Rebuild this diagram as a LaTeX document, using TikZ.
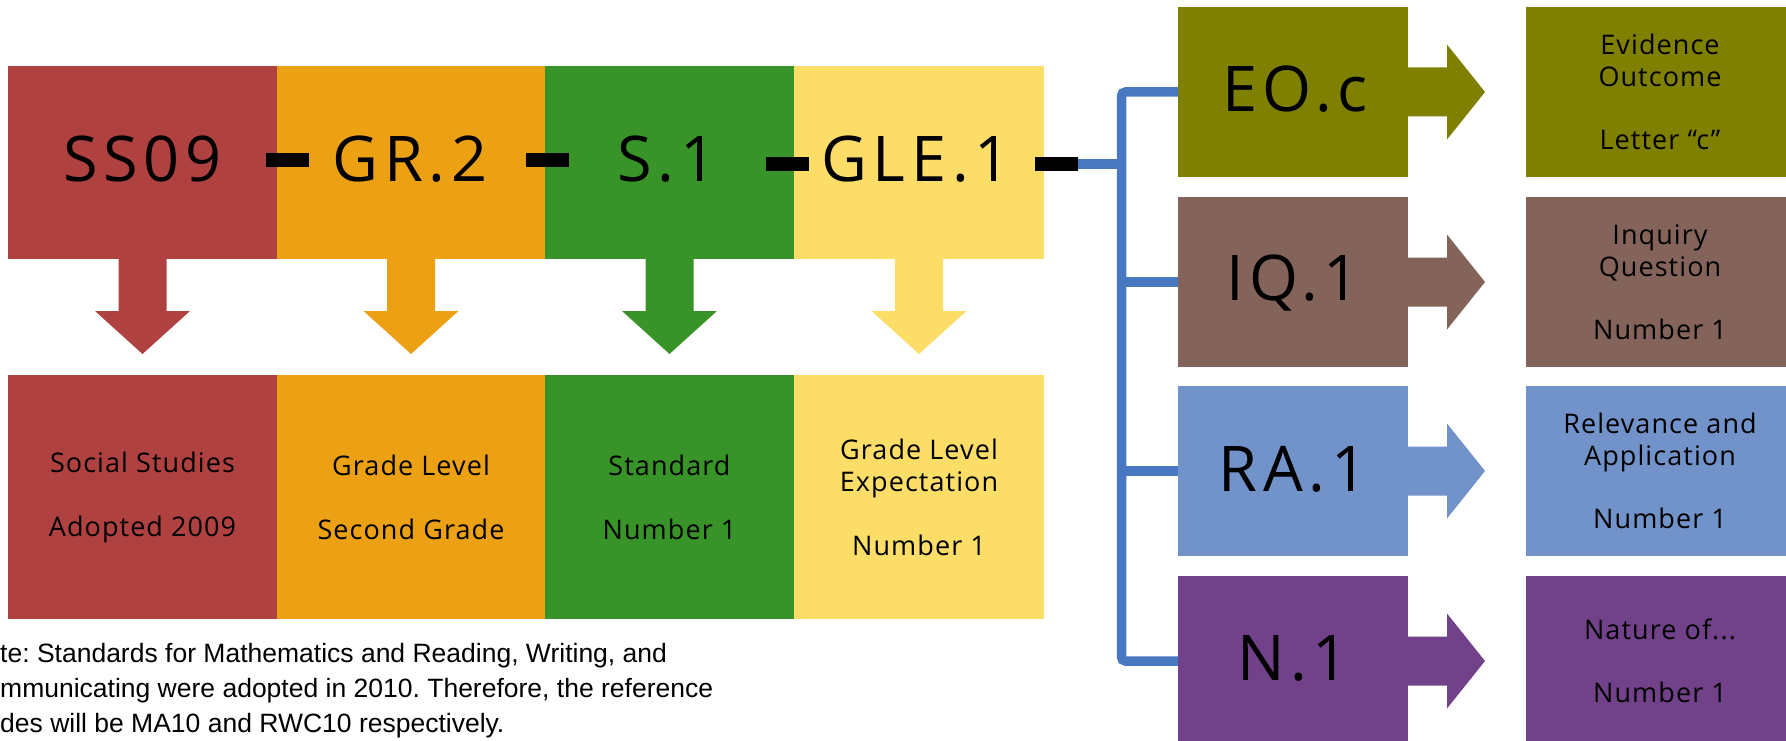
\documentclass[tikz,border=0pt]{standalone}
\usepackage{fontspec}
\setmainfont{Open Sans}
\newfontfamily\notefont{Liberation Sans}
\newfontfamily\bigfont[LetterSpace=9]{Open Sans}
\newfontfamily\smallfont[LetterSpace=4]{Open Sans}
\frenchspacing
\definecolor{cRed}{RGB}{176,65,65}
\definecolor{cOrange}{RGB}{236,161,21}
\definecolor{cGreen}{RGB}{56,148,40}
\definecolor{cYellow}{RGB}{251,221,104}
\definecolor{cOlive}{RGB}{128,128,0}
\definecolor{cBrown}{RGB}{132,100,90}
\definecolor{cLBlue}{RGB}{114,146,202}
\definecolor{cPurple}{RGB}{113,65,137}
\definecolor{cBus}{RGB}{72,120,192}
\newcommand\DownArr[2]{\fill[#2] (#1.south) ++(-24,-1) -- ++(0,53) -- ++(-23.5,0) -- ++(47.5,43) -- ++(47.5,-43) -- ++(-23.5,0) -- ++(0,-53) -- cycle;}
\newcommand\RightArr[2]{\fill[#2] (#1.east) ++(-1,-24.5) -- ++(40,0) -- ++(0,-23) -- ++(38,47.5) -- ++(-38,47.5) -- ++(0,-23) -- ++(-40,0) -- cycle;}
\begin{document}
\begin{tikzpicture}[x=1pt,y=-1pt,
  box/.style={rectangle, inner sep=0pt, outer sep=0pt, draw=none},
  topbox/.style={box, minimum height=193pt},
  botbox/.style={box, minimum height=244pt, align=center, font=\smallfont\fontsize{27}{32}\selectfont},
  colbox/.style={box, minimum width=230pt, minimum height=170pt},
  descbox/.style={box, minimum width=268pt, minimum height=170pt, align=center, font=\smallfont\fontsize{27}{31.5}\selectfont},
  biglabel/.style={inner sep=0pt, anchor=base, font=\bigfont\fontsize{63}{70}\selectfont},
  dashbar/.style={rectangle, fill=black, inner sep=0pt, minimum width=43pt, minimum height=14pt},
  busline/.style={draw=cBus, line width=9.5pt},
  notetext/.style={inner sep=0pt, anchor=base west, font=\notefont\fontsize{26.5}{30}\selectfont}
]
\useasboundingbox (0,0) rectangle (1786,741);

% top row
\node[topbox, fill=cRed,    minimum width=269pt] (ss)  at (142.5,162.5) {};
\node[topbox, fill=cOrange, minimum width=268pt] (gr)  at (411,162.5) {};
\node[topbox, fill=cGreen,  minimum width=249pt] (st)  at (669.5,162.5) {};
\node[topbox, fill=cYellow, minimum width=250pt] (gle) at (919,162.5) {};

\node[biglabel] (tss)  at (142.5,182) {SS09};
\node[biglabel] (tgr)  at (410,182) {GR.2};
\node[biglabel] (tst)  at (667,182) {S.1};
\node[biglabel] (tgle) at (916,182) {GLE.1};

% bottom row
\node[botbox, fill=cRed,    minimum width=269pt] (bss)  at (142.5,497) {Social Studies\\[32pt]Adopted 2009};
\node[botbox, fill=cOrange, minimum width=268pt] (bgr)  at (411,497) {Grade Level\\[32pt]Second Grade};
\node[botbox, fill=cGreen,  minimum width=249pt] (bst)  at (669.5,497) {Standard\\[32pt]Number 1};
\node[botbox, fill=cYellow, minimum width=250pt] (bgle) at (919,497) {Grade Level\\Expectation\\[32pt]Number 1};

\DownArr{ss}{cRed}
\DownArr{gr}{cOrange}
\DownArr{st}{cGreen}
\DownArr{gle}{cYellow}

% right column
\node[colbox, fill=cOlive]  (eo) at (1293,92) {};
\node[colbox, fill=cBrown]  (iq) at (1293,282) {};
\node[colbox, fill=cLBlue]  (ra) at (1293,471) {};
\node[colbox, fill=cPurple] (na) at (1293,661) {};

\node[biglabel] (teo) at (1295,112) {EO.c};
\node[biglabel] (tiq) at (1293,300) {IQ.1};
\node[biglabel] (tra) at (1293,491) {RA.1};
\node[biglabel] (tna) at (1293,680) {N.1};

\node[descbox, fill=cOlive]  (deo) at (1660,92) {Evidence\\Outcome\\[31.5pt]Letter “c”};
\node[descbox, fill=cBrown]  (diq) at (1660,282) {Inquiry\\Question\\[31.5pt]Number 1};
\node[descbox, fill=cLBlue]  (dra) at (1660,471) {Relevance and\\Application\\[31.5pt]Number 1};
\node[descbox, fill=cPurple] (dna) at (1660,661) {Nature of...\\[31.5pt]Number 1};

\RightArr{eo}{cOlive}
\RightArr{iq}{cBrown}
\RightArr{ra}{cLBlue}
\RightArr{na}{cPurple}

% dashes
\node[dashbar] (d1) at (287.5,160) {};
\node[dashbar] (d2) at (547,160) {};
\node[dashbar] (d3) at (787,164) {};
\node[dashbar] (d4) at (1056,164) {};

% bus
\coordinate (busx) at (1121.5,0);
\draw[busline] (d4.east) -- (d4.east -| busx);
\draw[busline, rounded corners=4pt] (eo.west) -- (eo.west -| busx) -- (na.west -| busx) -- (na.west);
\draw[busline] (iq.west -| busx) -- (iq.west);
\draw[busline] (ra.west -| busx) -- (ra.west);

% note
\node[notetext] (n1) at (0,662) {te: Standards for Mathematics and Reading, Writing, and};
\node[notetext] (n2) at (0,697) {mmunicating were adopted in 2010. Therefore, the reference};
\node[notetext] (n3) at (0,732) {des will be MA10 and RWC10 respectively.};
\end{tikzpicture}
\end{document}
